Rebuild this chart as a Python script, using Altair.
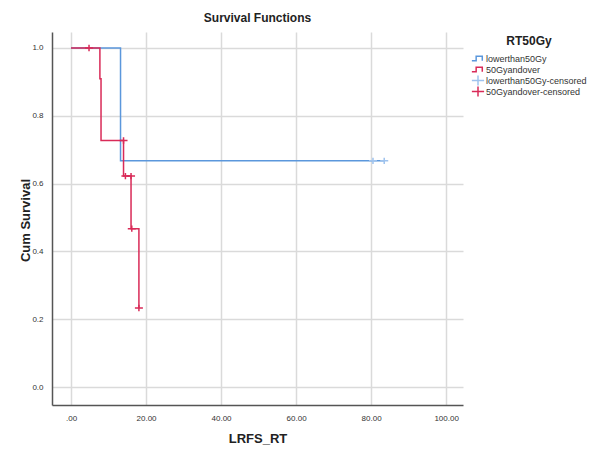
import altair as alt
import pandas as pd

# ---- data ----
blue_t = [0.0, 13.2, 83.5]
blue_s = [1.0, 0.667, 0.667]
red_t = [0.0, 7.7, 8.0, 14.0, 16.0, 18.1]
red_s = [1.0, 0.909, 0.727, 0.622, 0.467, 0.233]

blue_cens_t = [80.5, 83.5]
blue_cens_s = [0.667, 0.667]
red_cens_t = [4.8, 14.0, 14.5, 16.0, 16.2, 18.1]
red_cens_s = [1.0, 0.727, 0.622, 0.622, 0.467, 0.233]

groups = ["lowerthan50Gy", "50Gyandover", "lowerthan50Gy-censored", "50Gyandover-censored"]
colors = ["#5b97dc", "#d92b58", "#9fc3ee", "#d92b58"]
x_ticks = [0, 20, 40, 60, 80, 100]
y_ticks = [0.0, 0.2, 0.4, 0.6, 0.8, 1.0]

lines = pd.DataFrame(
    [{"t": t, "s": s, "g": groups[0], "o": 0} for t, s in zip(blue_t, blue_s)]
    + [{"t": t, "s": s, "g": groups[1], "o": 1} for t, s in zip(red_t, red_s)]
)
cens = pd.DataFrame(
    [{"t": t, "s": s, "g": groups[2]} for t, s in zip(blue_cens_t, blue_cens_s)]
    + [{"t": t, "s": s, "g": groups[3]} for t, s in zip(red_cens_t, red_cens_s)]
)

FONT = "Liberation Sans"

xscale = alt.Scale(domain=[-5.07, 104.5], nice=False, zero=False)
yscale = alt.Scale(domain=[-0.053, 1.047], nice=False, zero=False)

xaxis = alt.Axis(
    values=x_ticks,
    labelExpr="datum.value == 0 ? '.00' : format(datum.value, '.2f')",
    title="LRFS_RT",
    grid=True,
    ticks=False,
    labelPadding=9,
    titleY=37,
    titleBaseline="alphabetic",
)
yaxis = alt.Axis(
    values=y_ticks,
    format=".1f",
    title="Cum Survival",
    grid=True,
    ticks=False,
    labelPadding=9,
    titleX=-27,
    titleY=188,
    titleAngle=-90,
    titleAlign="center",
    titleBaseline="middle",
)

color_scale = alt.Scale(domain=groups, range=colors)
step_path = "M-1,0.35H-0.3V-0.35H0.7V0.35"
cross_path = "M-1,0H1M0,-0.8V0.8"
shape_scale = alt.Scale(domain=groups, range=[step_path, step_path, cross_path, cross_path])

legend = alt.Legend(
    title="RT50Gy",
    orient="none",
    legendX=419,
    legendY=4,
    symbolSize=150,
    symbolStrokeWidth=1.5,
    clipHeight=11,
    labelFontSize=9,
    labelFont=FONT,
    labelColor="#333333",
    titleFont=FONT,
    titleFontSize=12,
    titleFontWeight="bold",
    titleColor="#222222",
    titleAnchor="middle",
    titlePadding=5,
    rowPadding=0,
    labelOffset=1,
)

line_layer = alt.Chart(lines).mark_line(interpolate="step-after", strokeWidth=1.5).encode(
    x=alt.X("t:Q", scale=xscale, axis=xaxis),
    y=alt.Y("s:Q", scale=yscale, axis=yaxis),
    color=alt.Color("g:N", scale=color_scale, legend=legend),
    detail="g:N",
    order="o:Q",
)

pt_layer = alt.Chart(cens).mark_point(filled=False, strokeWidth=1.5, size=64, opacity=1).encode(
    x=alt.X("t:Q", scale=xscale),
    y=alt.Y("s:Q", scale=yscale),
    color=alt.Color("g:N", scale=color_scale, legend=legend),
    shape=alt.Shape("g:N", scale=shape_scale, legend=legend),
)

chart = (
    alt.layer(line_layer, pt_layer)
    .properties(
        width=411,
        height=373,
        title=alt.TitleParams("Survival Functions", fontSize=12, font=FONT, fontWeight="bold",
                              color="#222222", anchor="middle", offset=7),
        autosize=alt.AutoSizeParams(type="none"),
        padding={"left": 44, "top": 24, "right": 134, "bottom": 40},
    )
    .configure_view(stroke=None)
    .configure_axis(
        domainColor="#555555",
        domainWidth=1.5,
        gridColor="#dadada",
        gridWidth=1.5,
        labelFont=FONT,
        labelFontSize=8,
        labelColor="#333333",
        titleFont=FONT,
        titleFontSize=13,
        titleFontWeight="bold",
        titleColor="#222222",
    )
)

chart.save("out.html", embed_options={"renderer": "svg", "actions": False})
